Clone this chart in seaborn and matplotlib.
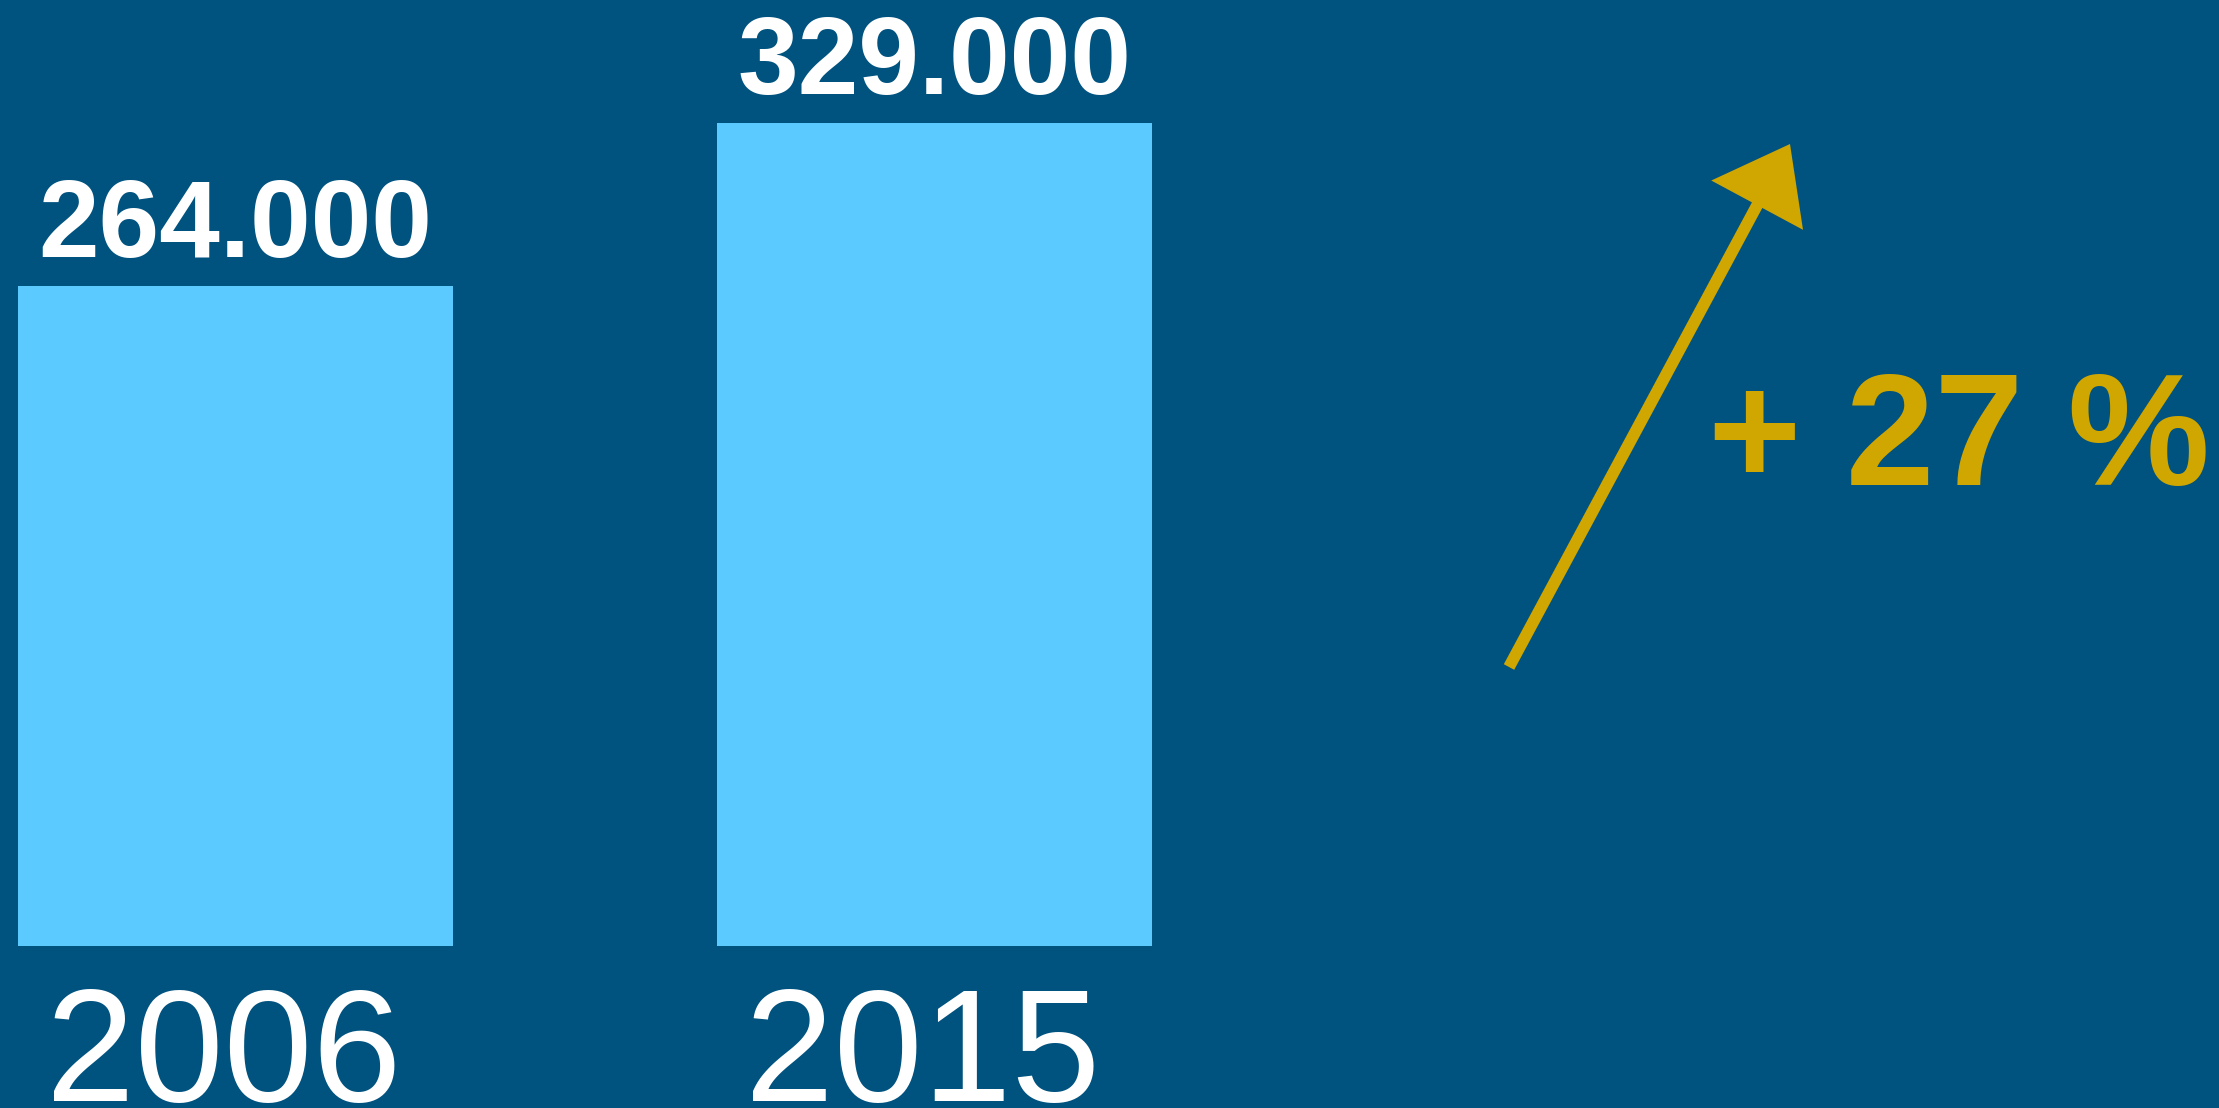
import matplotlib
matplotlib.use("Agg")
import matplotlib.pyplot as plt
from matplotlib.transforms import ScaledTranslation
import seaborn as sns
import pandas as pd

# --- DATA ---
years = ["2006", "2015"]
values = [264000, 329000]
change_text = "+ 27 %"

BG = "#00527F"
BAR = "#5BCBFF"
GOLD = "#D0A600"

sns.set_theme(style="white")
plt.rcParams["font.family"] = ["Liberation Sans", "DejaVu Sans"]

df = pd.DataFrame({"year": years, "value": values})

fig = plt.figure(figsize=(22.19, 11.08), dpi=100, facecolor=BG)
ax = fig.add_axes([0, 162.3 / 1108, 1, 1 - 162.3 / 1108])
ax.set_facecolor(BG)

sns.barplot(data=df, x="year", y="value", color=BAR, width=0.622,
            saturation=1, linewidth=0, edgecolor="none", ax=ax)

# bar geometry: 2.5 px per thousand
ax.set_xlim(-0.337, 2.838)
ax.set_ylim(0, (1108 - 162.3) / 2.5 * 1000)

# value labels above bars
for i, v in enumerate(values):
    ax.annotate(f"{v:,}".replace(",", "."), xy=(i, v), xytext=(0, 20.9),
                textcoords="offset points", ha="center", va="baseline",
                fontsize=78.5, fontweight="bold", color="white")

# year labels as tick labels
ax.tick_params(axis="x", length=0, pad=28, labelsize=115, labelcolor="white")
for lab in ax.get_xticklabels():
    lab.set_transform(lab.get_transform() + ScaledTranslation(-0.12, 0, fig.dpi_scale_trans))
ax.set_yticks([])
ax.set_xlabel("")
ax.set_ylabel("")
for s in ax.spines.values():
    s.set_visible(False)

# arrow and change text
ax.annotate("", xy=(1790 / 2219, 1 - 144 / 1108), xytext=(1509 / 2219, 1 - 667 / 1108),
            xycoords="figure fraction", textcoords="figure fraction",
            arrowprops=dict(arrowstyle="simple,head_length=50,head_width=75,tail_width=8.5",
                            mutation_scale=1, lw=0, color=GOLD,
                            shrinkA=0, shrinkB=0))
fig.text(1708 / 2219, 1 - 485.5 / 1108, change_text, ha="left", va="baseline",
         fontsize=115, fontweight="bold", color=GOLD)

fig.savefig("out.png", dpi=100, facecolor=BG)
